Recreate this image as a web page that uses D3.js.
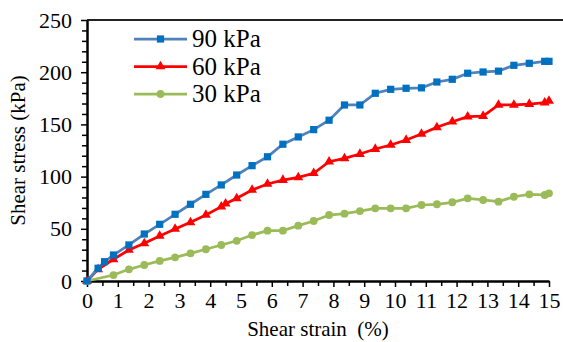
<!DOCTYPE html>
<html>
<head>
<meta charset="utf-8">
<script src="https://cdn.jsdelivr.net/npm/d3@7"></script>
<style>
  body { margin: 0; background: #fff; }
</style>
</head>
<body>
<div id="svg-container"></div>
<script>
// data
const strain90 = [0, 0.36, 0.57, 0.86, 1.36, 1.86, 2.36, 2.86, 3.36, 3.86, 4.36, 4.86, 5.36, 5.86, 6.36, 6.86, 7.36, 7.86, 8.36, 8.86, 9.36, 9.86, 10.36, 10.86, 11.36, 11.86, 12.36, 12.86, 13.36, 13.86, 14.36, 14.86, 15];
const stress90 = [0, 12.2, 18.5, 24.9, 34.5, 45, 54.3, 63.9, 73.5, 83, 92, 101.5, 110.5, 119, 131, 138, 145, 154, 168.6, 168.6, 179.8, 183.6, 184.6, 185, 190.6, 193.2, 199, 200.2, 201, 206.6, 208.5, 210.4, 210.4];

const strain60 = [0, 0.36, 0.86, 1.36, 1.86, 2.36, 2.86, 3.36, 3.86, 4.36, 4.5, 4.86, 5.36, 5.86, 6.36, 6.86, 7.36, 7.86, 8.36, 8.86, 9.36, 9.86, 10.36, 10.86, 11.36, 11.86, 12.36, 12.86, 13.36, 13.86, 14.36, 14.86, 15];
const stress60 = [0, 11.2, 20.8, 29.7, 36.1, 43.1, 49.8, 56.2, 63.2, 71.2, 74, 79.2, 87.2, 92.9, 96.7, 99.3, 103.2, 114.3, 117.5, 121.6, 126.4, 130.3, 135, 140.8, 147.2, 152.6, 157.4, 158, 168.6, 168.6, 169.5, 170.8, 172.4];

const strain30 = [0, 0.86, 1.36, 1.86, 2.36, 2.86, 3.36, 3.86, 4.36, 4.86, 5.36, 5.86, 6.36, 6.86, 7.36, 7.86, 8.36, 8.86, 9.36, 9.86, 10.36, 10.86, 11.36, 11.86, 12.36, 12.86, 13.36, 13.86, 14.36, 14.86, 15];
const stress30 = [0, 5.7, 11.2, 15.3, 19.2, 22.7, 26.5, 30.4, 34.5, 38.5, 44, 48.2, 48.2, 53, 57.5, 63.2, 64.5, 67, 69.6, 69.6, 69.6, 72.8, 73.5, 75.4, 79.2, 77.6, 76, 80.7, 83, 82.4, 84];

const seriesNames = ["90 kPa", "60 kPa", "30 kPa"];
const xTicks = [0, 1, 2, 3, 4, 5, 6, 7, 8, 9, 10, 11, 12, 13, 14, 15];
const yTicks = [0, 50, 100, 150, 200, 250];

const width = 563;
const height = 342;
const margin = { top: 20, right: 14, bottom: 61, left: 87 };
const FONT = "'Times New Roman', Times, 'Liberation Serif', serif";

const series = [
  { name: seriesNames[0], x: strain90, y: stress90, line: "#4f81bd", fill: "#0070c0", shape: d3.symbolSquare, size: 52 },
  { name: seriesNames[1], x: strain60, y: stress60, line: "#ff0000", fill: "#ff0000", shape: d3.symbolTriangle, size: 42 },
  { name: seriesNames[2], x: strain30, y: stress30, line: "#9bbb59", fill: "#9bbb59", shape: d3.symbolCircle, size: 48 }
];

const svg = d3.select("#svg-container").append("svg")
  .attr("width", width).attr("height", height)
  .style("font-family", FONT);

// scale
const xScale = d3.scaleLinear().domain([0, 15]).range([margin.left, width - margin.right]);
const yScale = d3.scaleLinear().domain([0, 250]).range([height - margin.bottom, margin.top]);

// top border
svg.append("line")
  .attr("x1", margin.left).attr("x2", width)
  .attr("y1", yScale(250)).attr("y2", yScale(250))
  .attr("stroke", "#222").attr("stroke-width", 2);

// minor ticks
svg.append("g")
  .attr("transform", `translate(0, ${height - margin.bottom})`)
  .call(d3.axisBottom(xScale).tickValues(d3.range(0.5, 15, 1)).tickSize(5).tickFormat(""))
  .call(g => g.select(".domain").remove())
  .call(g => g.selectAll("line").attr("stroke", "#000").attr("stroke-width", 1.5));

svg.append("g")
  .attr("transform", `translate(${margin.left}, 0)`)
  .call(d3.axisLeft(yScale).tickValues(d3.range(10, 250, 10).filter(v => v % 50 !== 0)).tickSize(5).tickFormat(""))
  .call(g => g.select(".domain").remove())
  .call(g => g.selectAll("line").attr("stroke", "#000").attr("stroke-width", 1.5));

// axes
svg.append("g")
  .attr("class", "x-axis")
  .attr("transform", `translate(0, ${height - margin.bottom})`)
  .call(d3.axisBottom(xScale).tickValues(xTicks).tickSize(6).tickSizeOuter(0).tickPadding(5))
  .call(g => g.select(".domain").attr("stroke", "#000").attr("stroke-width", 2.5))
  .call(g => g.selectAll(".tick line").attr("stroke", "#000").attr("stroke-width", 1.5));

svg.append("g")
  .attr("class", "y-axis")
  .attr("transform", `translate(${margin.left}, 0)`)
  .call(d3.axisLeft(yScale).tickValues(yTicks).tickSize(6).tickSizeOuter(0).tickPadding(9))
  .call(g => g.select(".domain").attr("stroke", "#000").attr("stroke-width", 2.5))
  .call(g => g.selectAll(".tick line").attr("stroke", "#000").attr("stroke-width", 1.5));

svg.selectAll(".x-axis, .y-axis").attr("font-family", null).attr("font-size", null);
svg.selectAll(".tick text").style("font-family", FONT).style("font-size", "22px").attr("fill", "#000");

// lines + markers
const line = d3.line().x(d => xScale(d[0])).y(d => yScale(d[1]));

series.slice().reverse().forEach(s => {
  const pts = s.x.map((v, i) => [v, s.y[i]]);
  svg.append("path")
    .datum(pts)
    .attr("fill", "none")
    .attr("stroke", s.line)
    .attr("stroke-width", 2.75)
    .attr("d", line);
  svg.selectAll(null)
    .data(pts)
    .enter()
    .append("path")
    .attr("transform", d => `translate(${xScale(d[0])}, ${yScale(d[1])})`)
    .attr("d", d3.symbol().type(s.shape).size(s.size))
    .attr("fill", s.fill);
});

// legend
const legend = svg.append("g").attr("transform", "translate(134, 39)");
series.forEach((s, i) => {
  const g = legend.append("g").attr("transform", `translate(0, ${i * 27.5})`);
  g.append("line").attr("x1", 0).attr("x2", 53).attr("stroke", s.line).attr("stroke-width", 2.75);
  g.append("path").attr("transform", "translate(26.5, 0)")
    .attr("d", d3.symbol().type(s.shape).size(s.size)).attr("fill", s.fill);
  g.append("text").attr("x", 58).attr("y", 8)
    .style("font-family", FONT).style("font-size", "25px").text(s.name);
});

// axis titles
svg.append("text")
  .attr("x", (margin.left + width - margin.right) / 2)
  .attr("y", height - 6)
  .attr("text-anchor", "middle")
  .style("font-family", FONT).style("font-size", "21px")
  .style("white-space", "pre")
  .text("Shear strain  (%)");

svg.append("text")
  .attr("transform", `translate(25, ${(margin.top + height - margin.bottom) / 2}) rotate(-90)`)
  .attr("text-anchor", "middle")
  .style("font-family", FONT).style("font-size", "21px")
  .text("Shear stress (kPa)");
</script>
</body>
</html>
